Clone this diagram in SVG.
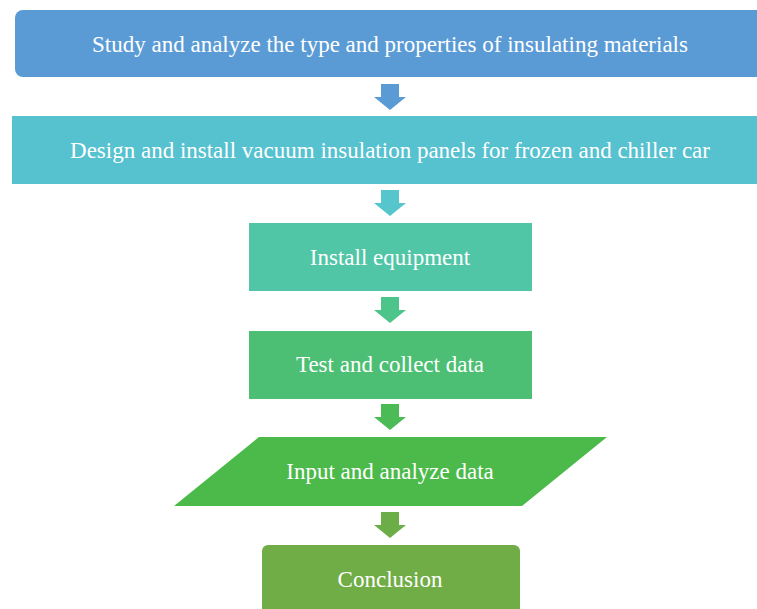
<svg xmlns="http://www.w3.org/2000/svg" width="757" height="609" viewBox="0 0 757 609">
<style>
text{font-family:"Liberation Serif","Times New Roman",serif;font-size:23px;fill:#ffffff;text-anchor:middle}
</style>
<rect width="757" height="609" fill="#ffffff"/>
<g id="n1"><rect x="15" y="10" width="760" height="67" rx="8" fill="#5B9BD5"/><text x="390" y="52">Study and analyze the type and properties of insulating materials</text></g>
<g id="n2"><rect x="12" y="116" width="760" height="68" fill="#56C1CF"/><text x="390" y="158">Design and install vacuum insulation panels for frozen and chiller car</text></g>
<g id="n3"><rect x="249" y="223" width="283" height="68" fill="#50C6A6"/><text x="390" y="265">Install equipment</text></g>
<g id="n4"><rect x="249" y="331" width="283" height="68" fill="#4CBF74"/><text x="390" y="372">Test and collect data</text></g>
<g id="n5"><polygon points="259,437 607,437 522,506 174,506" fill="#4BBA4A"/><text x="390" y="479">Input and analyze data</text></g>
<g id="n6"><rect x="262" y="545" width="258" height="80" rx="6" fill="#70AD47"/><text x="390" y="587">Conclusion</text></g>
<g id="connectors">
<polygon points="381,84 399,84 399,97 406,97 390,110 374,97 381,97" fill="#5B9BD5"/>
<polygon points="381,190 399,190 399,203 406,203 390,216 374,203 381,203" fill="#56C6CC"/>
<polygon points="381,297 399,297 399,310 406,310 390,323 374,310 381,310" fill="#4DC48A"/>
<polygon points="381,404 399,404 399,417 406,417 390,430 374,417 381,417" fill="#4BBB55"/>
<polygon points="381,512 399,512 399,525 406,525 390,538 374,525 381,525" fill="#6BAE47"/>
</g>
</svg>
